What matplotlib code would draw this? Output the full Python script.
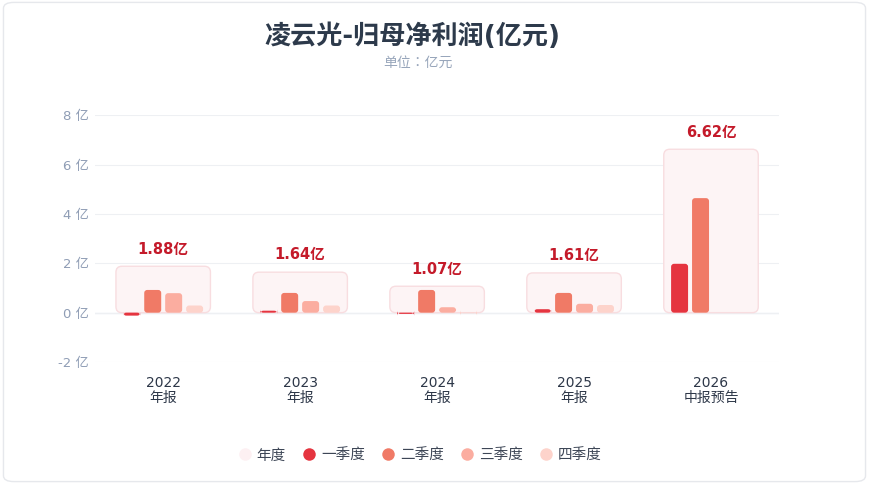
import matplotlib
matplotlib.use('Agg')
import matplotlib.pyplot as plt
from matplotlib.patches import FancyBboxPatch
from matplotlib.lines import Line2D

plt.rcParams['font.family'] = ['DejaVu Sans', 'Noto Sans CJK SC']

## data (亿元)
years = ['2022', '2023', '2024', '2025', '2026']
kinds = ['年报', '年报', '年报', '年报', '中报预告']
annual = [1.88, 1.64, 1.07, 1.61, 6.62]
q1 = [-0.12, 0.08, -0.05, 0.14, 1.98]
q2 = [0.92, 0.80, 0.92, 0.80, 4.64]
q3 = [0.79, 0.47, 0.22, 0.36, None]
q4 = [0.29, 0.29, -0.02, 0.31, None]
yticks = [-2, 0, 2, 4, 6, 8]

quarter_names = ['一季度', '二季度', '三季度', '四季度']
quarter_colors = ['#e5343f', '#f07a66', '#fbada0', '#fdd3cb']
box_fill = '#fdf4f5'
box_edge = '#f8dde0'
label_color = '#c41a2a'

fig = plt.figure(figsize=(8.69, 4.84), dpi=100)
fig.patch.set_facecolor('white')
# card border
fig.patches.append(FancyBboxPatch((0.004, 0.005), 0.992, 0.99,
                                  boxstyle='round,pad=0,rounding_size=0.012',
                                  transform=fig.transFigure, facecolor='white',
                                  edgecolor='#e6e8ec', linewidth=1.0, zorder=-10))

ax = fig.add_axes([0.109, 0.252, 0.788, 0.510])
ax.set_xlim(-0.5, len(years) - 0.5)
ax.set_ylim(-2, 8)

# px per data unit, used to keep rounded corners round
px_x = 0.788 * 869 / len(years)
px_y = 0.510 * 484 / 10.0
aspect = px_x / px_y

def rounded(x0, y0, w, h, r_px, fc, ec='none', lw=0, z=2):
    y_low = min(y0, y0 + h)
    p = FancyBboxPatch((x0, y_low), w, abs(h),
                       boxstyle='round,pad=0,rounding_size=%f' % (r_px / px_x),
                       mutation_aspect=aspect, facecolor=fc, edgecolor=ec,
                       linewidth=lw, zorder=z)
    ax.add_patch(p)

box_w = 0.69
bar_w = 0.124
step = 0.153
quarters = [q1, q2, q3, q4]

for i in range(len(years)):
    rounded(i - box_w / 2, 0, box_w, annual[i], 6, box_fill, box_edge, 1.0, z=1)
    ax.annotate('%.2f亿' % annual[i], (i, annual[i]), xytext=(0, 7),
                textcoords='offset points', ha='center', va='bottom',
                fontsize=10.5, fontweight='bold', color=label_color)
    for k, q in enumerate(quarters):
        v = q[i]
        if v is None:
            continue
        cx = i + (k - 1.5) * step
        rounded(cx - bar_w / 2, 0, bar_w, v, 3, quarter_colors[k], z=3)

ax.set_yticks(yticks)
ax.set_yticklabels(['%d 亿' % t for t in yticks])
ax.set_xticks(range(len(years)))
ax.set_xticklabels(['%s\n%s' % (y, k) for y, k in zip(years, kinds)],
                   linespacing=1.1)
ax.tick_params(axis='y', length=0, pad=4, labelsize=9.5, labelcolor='#8f9db5')
ax.tick_params(axis='x', length=0, pad=10, labelsize=10, labelcolor='#2d3748')
for s in ax.spines.values():
    s.set_visible(False)
ax.grid(axis='y', color='#eef0f3', linewidth=0.8, zorder=0)
ax.set_axisbelow(True)
ax.axhline(0, color='#e6edf7', linewidth=1.0, zorder=0.5)

fig.text(0.475, 0.925, '凌云光-归母净利润(亿元)', ha='center', va='center',
         fontsize=18.8, fontweight=600, color='#2d3a4b')
fig.text(0.481, 0.870, '单位：亿元', ha='center', va='center',
         fontsize=10, color='#98a6bb', family=['Noto Sans CJK TC', 'DejaVu Sans'])

handles = [Line2D([], [], marker='o', linestyle='none', markersize=9,
                  markerfacecolor='#fdf0f2', markeredgecolor='none', label='年度')]
for name, c in zip(quarter_names, quarter_colors):
    handles.append(Line2D([], [], marker='o', linestyle='none', markersize=9,
                          markerfacecolor=c, markeredgecolor='none', label=name))
fig.legend(handles=handles, loc='center', bbox_to_anchor=(0.483, 0.06), ncol=5,
           frameon=False, fontsize=10.5, handlelength=1.0, handletextpad=0.3,
           columnspacing=1.1, labelcolor='#3d4656')

fig.savefig('out.png', dpi=100)
